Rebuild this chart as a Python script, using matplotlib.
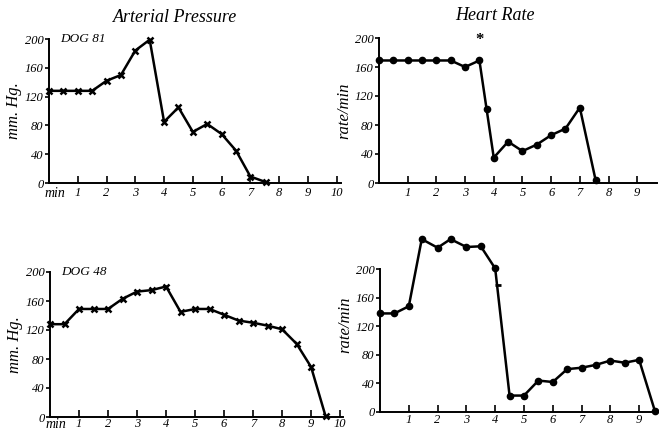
import matplotlib
matplotlib.use("Agg")
import matplotlib.pyplot as plt
import matplotlib.transforms as mtransforms

# ---- data ----
ap81_t = [0, 0.5, 1, 1.5, 2, 2.5, 3, 3.5, 4, 4.5, 5, 5.5, 6, 6.5, 7, 7.55]
ap81_v = [128, 128, 128, 128, 142, 150, 184, 199, 85, 105, 71, 82, 68, 45, 9, 1]

hr81_t = [0, 0.5, 1, 1.5, 2, 2.5, 3, 3.5, 3.75, 4, 4.5, 5, 5.5, 6, 6.5, 7, 7.55]
hr81_v = [169, 169, 169, 169, 169, 169, 160, 169, 102, 35, 57, 44, 53, 66, 75, 104, 4]

ap48_t = [0, 0.5, 1, 1.5, 2, 2.5, 3, 3.5, 4, 4.5, 5, 5.5, 6, 6.5, 7, 7.5, 8, 8.5, 9, 9.5]
ap48_v = [128, 128, 149, 149, 149, 163, 173, 175, 180, 145, 149, 149, 141, 133, 130, 126, 121, 101, 69, 1]

hr48_t = [0, 0.5, 1, 1.45, 2, 2.45, 3, 3.5, 4, 4.5, 5, 5.5, 6, 6.5, 7, 7.5, 8, 8.5, 9, 9.55]
hr48_v = [138, 138, 148, 242, 230, 242, 231, 232, 201, 23, 23, 44, 42, 60, 62, 66, 72, 69, 73, 1]
hr48_extra_t = [4.1]
hr48_extra_v = [178]

y_ticks = [0, 40, 80, 120, 160, 200]
ap_xticks = [1, 2, 3, 4, 5, 6, 7, 8, 9, 10]
hr_xticks = [1, 2, 3, 4, 5, 6, 7, 8, 9]

W, H = 659, 430
fig = plt.figure(figsize=(W / 100, H / 100), dpi=100)
FONT = "Liberation Serif"

def px_axes(x0, ypx0, wpx, hpx):
    return fig.add_axes([x0 / W, (H - ypx0) / H, wpx / W, hpx / H])

def style(ax, xmax, ymax, xticks, ylabel, xpad=3, spine_top=200):
    ax.set_xlim(0, xmax)
    ax.set_ylim(0, ymax)
    for s in ["top", "right"]:
        ax.spines[s].set_visible(False)
    ax.spines["left"].set_bounds(0, spine_top)
    for s in ["left", "bottom"]:
        ax.spines[s].set_linewidth(1.4)
    ax.set_xticks(xticks)
    ax.set_xticklabels([str(t) for t in xticks], fontfamily=FONT, fontstyle="italic", fontsize=9)
    ax.set_yticks(y_ticks)
    ax.set_yticklabels([str(t) for t in y_ticks], fontfamily=FONT, fontstyle="italic", fontsize=9)
    ax.tick_params(axis="x", direction="in", length=5, width=1.2, pad=xpad)
    ax.tick_params(axis="y", direction="out", length=3, width=1.2, pad=1)
    ax.set_ylabel(ylabel, fontfamily=FONT, fontstyle="italic", fontsize=12, labelpad=2)
    ax.patch.set_visible(False)

def min_label(ax, y=-0.03):
    tr = mtransforms.blended_transform_factory(ax.transData, ax.transAxes)
    ax.text(0.2, y, "min", transform=tr, ha="center", va="top",
            fontfamily=FONT, fontstyle="italic", fontsize=10)

lw = 1.8
# top-left
ax1 = px_axes(49, 183, 292, 144)
style(ax1, 10.15, 200, ap_xticks, "mm. Hg.")
ax1.plot(ap81_t, ap81_v, color="black", lw=lw, marker="x", ms=4, mew=1.8, clip_on=False)
ax1.text(0.4, 200, "DOG 81", ha="left", va="center", fontfamily=FONT, fontstyle="italic", fontsize=9.5)
min_label(ax1)

# top-right
ax2 = px_axes(379, 183, 278, 145)
style(ax2, 9.69, 200, hr_xticks, "rate/min")
ax2.plot(hr81_t, hr81_v, color="black", lw=lw, marker="o", ms=4.5, clip_on=False)
ax2.text(3.5, 186, "*", ha="center", va="bottom", fontfamily=FONT, fontsize=12, fontweight="bold")

# titles
fig.text(175 / W, 1 - 17 / H, "Arterial Pressure", ha="center", va="center",
         fontfamily=FONT, fontstyle="italic", fontsize=13)
fig.text(495 / W, 1 - 15 / H, "Heart Rate", ha="center", va="center",
         fontfamily=FONT, fontstyle="italic", fontsize=13)

# bottom-left
ax3 = px_axes(50, 417, 293, 145)
style(ax3, 10.1, 200, ap_xticks, "mm. Hg.", xpad=0.5)
ax3.plot(ap48_t, ap48_v, color="black", lw=lw, marker="x", ms=4, mew=1.8, clip_on=False)
ax3.text(0.4, 200, "DOG 48", ha="left", va="center", fontfamily=FONT, fontstyle="italic", fontsize=9.5)
min_label(ax3, y=-0.005)

# bottom-right
ax4 = px_axes(380, 412, 277, 175)
style(ax4, 9.62, 245, hr_xticks, "rate/min", xpad=1.5)
ax4.plot(hr48_t, hr48_v, color="black", lw=lw, marker="o", ms=4.5, clip_on=False)
ax4.plot(hr48_extra_t, hr48_extra_v, color="black", lw=0, marker="_", ms=4, mew=2, clip_on=False)

fig.savefig("out.png", dpi=100)
